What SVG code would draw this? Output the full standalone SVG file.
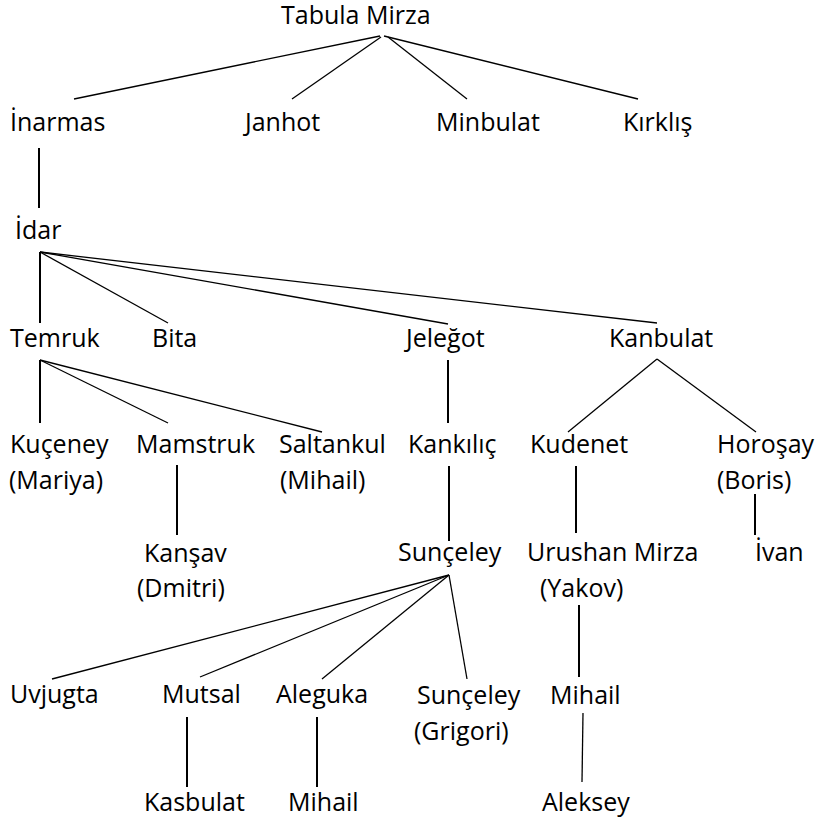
<svg xmlns="http://www.w3.org/2000/svg" width="823" height="822" viewBox="0 0 823 822">
<style>
text{font-family:"Open Sans","Liberation Sans",sans-serif;font-size:25px;fill:#000}
.d{stroke:#000;stroke-width:1.3;fill:none}
.v{stroke:#000;stroke-width:2;fill:none}
</style>
<rect width="823" height="822" fill="#fff"/>
<g id="connectors">
<line class="d" x1="380" y1="36" x2="74" y2="99"/>
<line class="d" x1="381" y1="37" x2="292" y2="99"/>
<line class="d" x1="388" y1="37" x2="467" y2="99"/>
<line class="d" x1="384" y1="36" x2="638" y2="99"/>
<line class="v" x1="39" y1="148" x2="39" y2="208"/>
<line class="v" x1="40" y1="252" x2="40" y2="323"/>
<line class="d" x1="40" y1="252" x2="168" y2="323"/>
<line class="d" x1="40" y1="252" x2="448" y2="324"/>
<line class="d" x1="40" y1="252" x2="657" y2="323"/>
<line class="v" x1="40" y1="360" x2="40" y2="423"/>
<line class="d" x1="40" y1="360" x2="168" y2="423"/>
<line class="d" x1="40" y1="360" x2="322" y2="432"/>
<line class="v" x1="448" y1="360" x2="448" y2="423"/>
<line class="d" x1="657" y1="359" x2="568" y2="432"/>
<line class="d" x1="657" y1="359" x2="756" y2="432"/>
<line class="v" x1="177" y1="465" x2="177" y2="535"/>
<line class="v" x1="449" y1="466" x2="449" y2="541"/>
<line class="v" x1="576" y1="466" x2="576" y2="533"/>
<line class="v" x1="755" y1="494" x2="755" y2="535"/>
<line class="d" x1="449" y1="575" x2="52" y2="679"/>
<line class="d" x1="449" y1="575" x2="200" y2="677"/>
<line class="d" x1="449" y1="575" x2="322" y2="679"/>
<line class="d" x1="449" y1="575" x2="467" y2="679"/>
<line class="v" x1="579" y1="605" x2="579" y2="677"/>
<line class="v" x1="187" y1="717" x2="187" y2="787"/>
<line class="v" x1="317" y1="717" x2="317" y2="787"/>
<line class="d" x1="583" y1="713" x2="582" y2="782"/>
</g>
<g id="n-tabula"><text x="281" y="24">Tabula Mirza</text></g>
<g id="n-inarmas"><text x="10" y="131">İnarmas</text></g>
<g id="n-janhot"><text x="245" y="131">Janhot</text></g>
<g id="n-minbulat"><text x="436" y="131">Minbulat</text></g>
<g id="n-kirklis"><text x="623" y="131">Kırklış</text></g>
<g id="n-idar"><text x="15" y="239">İdar</text></g>
<g id="n-temruk"><text x="10" y="347">Temruk</text></g>
<g id="n-bita"><text x="152" y="347">Bita</text></g>
<g id="n-jelegot"><text x="406" y="347">Jeleğot</text></g>
<g id="n-kanbulat"><text x="609" y="347">Kanbulat</text></g>
<g id="n-kuceney"><text x="10" y="453">Kuçeney</text><text x="9" y="489">(Mariya)</text></g>
<g id="n-mamstruk"><text x="136" y="453">Mamstruk</text></g>
<g id="n-saltankul"><text x="279" y="453">Saltankul</text><text x="280" y="489">(Mihail)</text></g>
<g id="n-kankilic"><text x="408" y="453">Kankılıç</text></g>
<g id="n-kudenet"><text x="530" y="453">Kudenet</text></g>
<g id="n-horosay"><text x="717" y="453">Horoşay</text><text x="717" y="489">(Boris)</text></g>
<g id="n-kansav"><text x="144" y="562">Kanşav</text><text x="137" y="597">(Dmitri)</text></g>
<g id="n-sunceley"><text x="398" y="561">Sunçeley</text></g>
<g id="n-urushan"><text x="527" y="561">Urushan Mirza</text><text x="540" y="597">(Yakov)</text></g>
<g id="n-ivan"><text x="755" y="561">İvan</text></g>
<g id="n-uvjugta"><text x="10" y="703">Uvjugta</text></g>
<g id="n-mutsal"><text x="162" y="703">Mutsal</text></g>
<g id="n-aleguka"><text x="276" y="703">Aleguka</text></g>
<g id="n-sunceley2"><text x="417" y="704">Sunçeley</text><text x="414" y="740">(Grigori)</text></g>
<g id="n-mihail1"><text x="550" y="704">Mihail</text></g>
<g id="n-kasbulat"><text x="144" y="811">Kasbulat</text></g>
<g id="n-mihail2"><text x="288" y="811">Mihail</text></g>
<g id="n-aleksey"><text x="542" y="811">Aleksey</text></g>
</svg>
